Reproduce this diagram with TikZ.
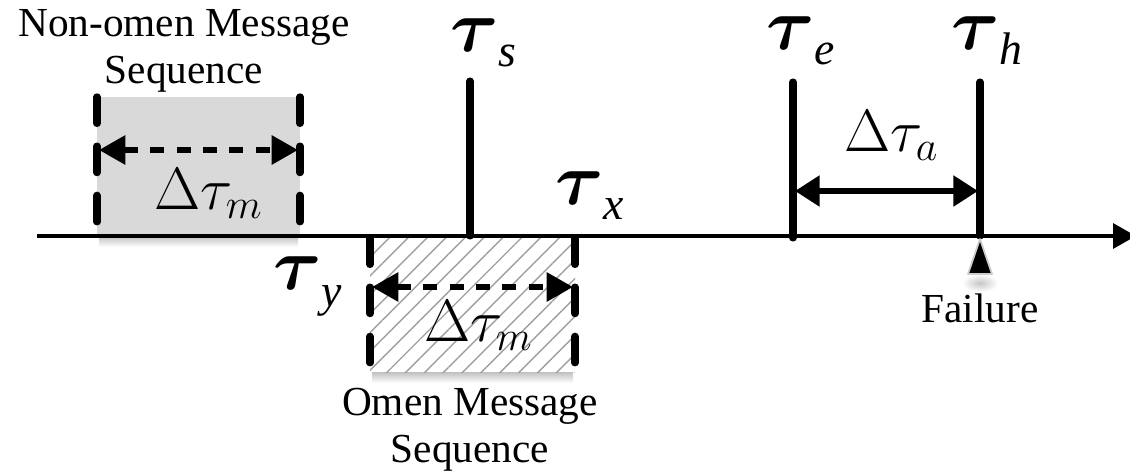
\RequirePackage{fix-cm}
\documentclass[tikz,border=0pt]{standalone}
\usepackage{fontspec}
\setmainfont{Liberation Serif}
\usetikzlibrary{arrows.meta,patterns.meta}
\newcommand{\tsub}[2]{{\fontsize{42}{44}\selectfont\boldmath$\tau$}\raisebox{-#2pt}{\fontsize{26}{28}\selectfont\textit{#1}}}
\begin{document}
\begin{tikzpicture}[x=0.02cm,y=-0.02cm,
  bound/.style={line width=4.2pt,dash pattern=on 15pt off 13pt,line cap=round},
  span/.style={line width=3.3pt,dash pattern=on 8pt off 7pt,{Triangle[length=15pt,width=16pt]}-{Triangle[length=15pt,width=16pt]}},
  tick/.style={line width=4pt,line cap=round},
  lbl/.style={inner sep=0pt,font=\fontsize{23.5}{27}\selectfont,align=center},
  tau/.style={inner sep=0pt,anchor=base west},
  dlt/.style={inner sep=0pt,anchor=base west,font=\fontsize{34}{36}\selectfont}]
\useasboundingbox (0,0) rectangle (1130,476);
% shadows
\shade[top color=gray!45,bottom color=white] (99,237) rectangle (298,247);
\shade[top color=gray!45,bottom color=white] (372,373) rectangle (573,383);
\shade[inner color=gray!45,outer color=white] (962,274) rectangle (998,292);
% axis
\coordinate (a0) at (37,236);
\coordinate (a1) at (1136,236);
% non-omen box
\fill[gray!30] (97,97) rectangle (300,236);
\coordinate (n1t) at (97,97); \coordinate (n1b) at (97,236);
\coordinate (n2t) at (300,97); \coordinate (n2b) at (300,236);
% omen box
\fill[pattern={Lines[angle=45,distance=7.6pt,line width=0.8pt]},pattern color=gray!75] (370,236) rectangle (575,373);
\coordinate (o1t) at (370,238); \coordinate (o1b) at (370,373);
\coordinate (o2t) at (575,238); \coordinate (o2b) at (575,373);
\draw[line width=2.2pt,-{Triangle[length=13pt,width=14pt]}] (a0) -- (a1);
\draw[bound] (n1t) -- (n1b);
\draw[bound] (n2t) -- (n2b);
\draw[bound] (o1t) -- (o1b);
\draw[bound] (o2t) -- (o2b);
\coordinate (n1m) at (99,150); \coordinate (n2m) at (298,150);
\draw[span] (n1m) -- (n2m);
\coordinate (o1m) at (372,287); \coordinate (o2m) at (573,287);
\draw[span] (o1m) -- (o2m);
% ticks
\coordinate (st) at (470,81); \coordinate (sb) at (470,236);
\coordinate (et) at (793,82); \coordinate (eb) at (793,238);
\coordinate (ht) at (980,82); \coordinate (hb) at (980,236);
\draw[tick] (st) -- (sb);
\draw[tick] (et) -- (eb);
\draw[tick] (ht) -- (hb);
\coordinate (em) at (795,191); \coordinate (hm) at (978,191);
\draw[line width=3.2pt,{Triangle[length=14pt,width=17pt]}-{Triangle[length=14pt,width=17pt]}] (em) -- (hm);
% failure marker
\coordinate (ftop) at (980,239);
\filldraw[fill=black,draw=gray!40,line width=1pt,line join=round] (ftop) -- (992,274) -- (968,274) -- cycle;
% labels
\node[lbl] (nonomen) at (184,51) {Non-omen Message\\Sequence};
\node[lbl] (omen) at (470,430) {Omen Message\\Sequence};
\node[lbl,anchor=base] (fail) at (980,323) {Failure};
\node[dlt] (dm1) at (154,210) {$\Delta\tau_m$};
\node[dlt] (dm2) at (424,342) {$\Delta\tau_m$};
\node[dlt] (da) at (844,152) {$\Delta\tau_a$};
\node[tau] (ts) at (450,52) {\tsub{s}{8.5}};
\node[tau] (te) at (766,50) {\tsub{e}{8.5}};
\node[tau] (th) at (951,50) {\tsub{h}{8.5}};
\node[tau] (tx) at (555,205) {\tsub{x}{8.5}};
\node[tau] (ty) at (273,290) {\tsub{y}{9.5}};
\end{tikzpicture}
\end{document}
